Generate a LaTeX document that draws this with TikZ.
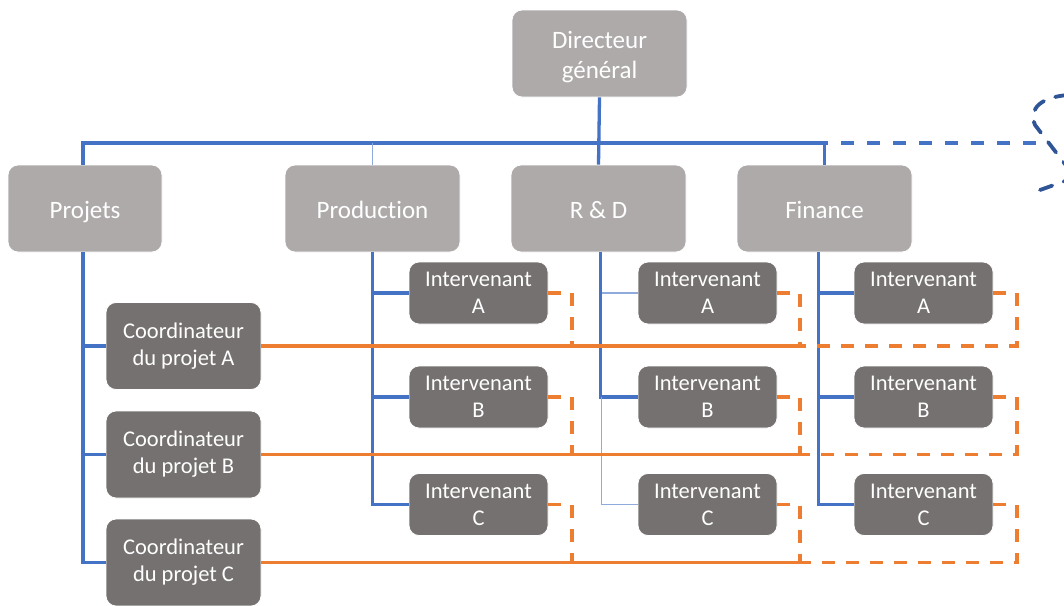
\documentclass[tikz,border=0pt]{standalone}
\usepackage{fontspec}
\setmainfont[Ligatures=NoCommon]{Carlito}
\definecolor{gtop}{HTML}{AEAAAA}
\definecolor{gdark}{HTML}{767171}
\definecolor{blueA}{HTML}{4472C4}
\definecolor{blueL}{HTML}{8FAADC}
\definecolor{blueD}{HTML}{2F5597}
\definecolor{orangeA}{HTML}{ED7D31}
\tikzset{
  boxbase/.style={rectangle, rounded corners=10pt, draw=white, line width=0.8pt, text=white, align=center, inner sep=0pt},
  topbox/.style={boxbase, fill=gtop, minimum width=175pt, minimum height=87pt, font=\fontsize{25}{30}\selectfont},
  topone/.style={topbox, text height=19pt, text depth=0pt},
  interbox/.style={boxbase, fill=gdark, minimum width=139pt, minimum height=62pt, font=\fontsize{22.5}{27}\selectfont},
  coordbox/.style={boxbase, fill=gdark, minimum width=155pt, minimum height=87pt, font=\fontsize{22.5}{27}\selectfont},
  bl/.style={draw=blueA, line width=3.3pt},
  blt/.style={draw=blueL, line width=1.2pt},
  bldash/.style={draw=blueA, line width=3.3pt, dash pattern=on 13pt off 13pt},
  dkdash/.style={draw=blueD, line width=3.8pt, dash pattern=on 13pt off 12pt, line cap=round},
  orsolid/.style={draw=orangeA, line width=3.3pt},
  ordash/.style={draw=orangeA, line width=3.3pt, dash pattern=on 13pt off 11pt}
}
\begin{document}
\begin{tikzpicture}[x=1pt,y=-1pt]
\useasboundingbox (0,0) rectangle (1064,605);
% top level
\node[topbox] (dg) at (599.5,53.5) {\rule{0pt}{25pt}Directeur\\général};
\node[topone, minimum width=154pt] (proj) at (85,208.5) {Projets};
\node[topone] (prod) at (372.5,208.5) {Production};
\node[topone] (rd) at (598.5,208.5) {R \& D};
\node[topone] (fin) at (824.5,208.5) {Finance};
% intervenants
\node[interbox] (pA) at (478.5,293) {Intervenant\\A};
\node[interbox] (pB) at (478.5,397) {Intervenant\\B};
\node[interbox] (pC) at (478.5,504.5) {Intervenant\\C};
\node[interbox] (rA) at (707.5,293) {Intervenant\\A};
\node[interbox] (rB) at (707.5,397) {Intervenant\\B};
\node[interbox] (rC) at (707.5,504.5) {Intervenant\\C};
\node[interbox] (fA) at (923.5,293) {Intervenant\\A};
\node[interbox] (fB) at (923.5,397) {Intervenant\\B};
\node[interbox] (fC) at (923.5,504.5) {Intervenant\\C};
% coordinators
\node[coordbox] (cA) at (183.5,346) {Coordinateur\\du projet A};
\node[coordbox] (cB) at (183.5,454.5) {Coordinateur\\du projet B};
\node[coordbox] (cC) at (183.5,562.5) {Coordinateur\\du projet C};
% helper coordinates
\coordinate (bus) at (0,143);
\coordinate (pcol) at (572,0);
\coordinate (rcol) at (800,0);
\coordinate (fcol) at (1017,0);
\coordinate (cloud) at (1043,143);
% blue hierarchy
\draw[bl] (dg.south) -- (rd.north);
\draw[bl] ([xshift=-2pt]proj.north) -- ([xshift=-2pt]proj.north |- bus) -- (fin.north |- bus) -- (fin.north);
\draw[blt] (prod.north) -- (prod.north |- bus);
\draw[bldash] (737,143) -- (cloud);
\draw[dkdash] (1068,95) .. controls (1042,97) and (1028,108) .. (1035,125) -- (1068,168);
\draw[dkdash] (1040,190) -- (1068,180);
% projets
\draw[bl] ([xshift=-2pt]proj.south) |- (cC.west);
\draw[bl] ([xshift=-2pt]proj.south |- cA.west) -- (cA.west);
\draw[bl] ([xshift=-2pt]proj.south |- cB.west) -- (cB.west);
% production
\draw[bl] (prod.south) |- (pC.west);
\draw[bl] (prod.south |- pA.west) -- (pA.west);
\draw[bl] (prod.south |- pB.west) -- (pB.west);
% R&D
\draw[bl] ([xshift=2pt]rd.south) |- (rB.west);
\draw[blt] ([xshift=3pt]rd.south |- rA.west) -- (rA.west);
\draw[blt] ([xshift=3pt]rd.south |- rB.west) |- (rC.west);
% finance
\draw[bl] ([xshift=-6pt]fin.south) |- (fC.west);
\draw[bl] ([xshift=-6pt]fin.south |- fA.west) -- (fA.west);
\draw[bl] ([xshift=-6pt]fin.south |- fB.west) -- (fB.west);
% orange coordinator lines
\draw[orsolid] (cA.east) -- (rcol |- cA.east);
\draw[orsolid] (cB.east) -- (rcol |- cB.east);
\draw[orsolid] (cC.east) -- (rcol |- cC.east);
% orange dashed links
\draw[ordash] (pA.east) -- (pcol |- pA.east) -- (pcol |- cA.east);
\draw[ordash] (pB.east) -- (pcol |- pB.east) -- (pcol |- cB.east);
\draw[ordash] (pC.east) -- (pcol |- pC.east) -- (pcol |- cC.east);
\draw[ordash] (rA.east) -- (rcol |- rA.east) -- (rcol |- cA.east);
\draw[ordash] (rB.east) -- (rcol |- rB.east) -- (rcol |- cB.east);
\draw[ordash] (rC.east) -- (rcol |- rC.east) -- (rcol |- cC.east);
\draw[ordash] (fA.east) -- (fcol |- fA.east) -- (fcol |- cA.east) -- (rcol |- cA.east);
\draw[ordash] (fB.east) -- (fcol |- fB.east) -- (fcol |- cB.east) -- (rcol |- cB.east);
\draw[ordash] (fC.east) -- (fcol |- fC.east) -- (fcol |- cC.east) -- (rcol |- cC.east);
\end{tikzpicture}
\end{document}
